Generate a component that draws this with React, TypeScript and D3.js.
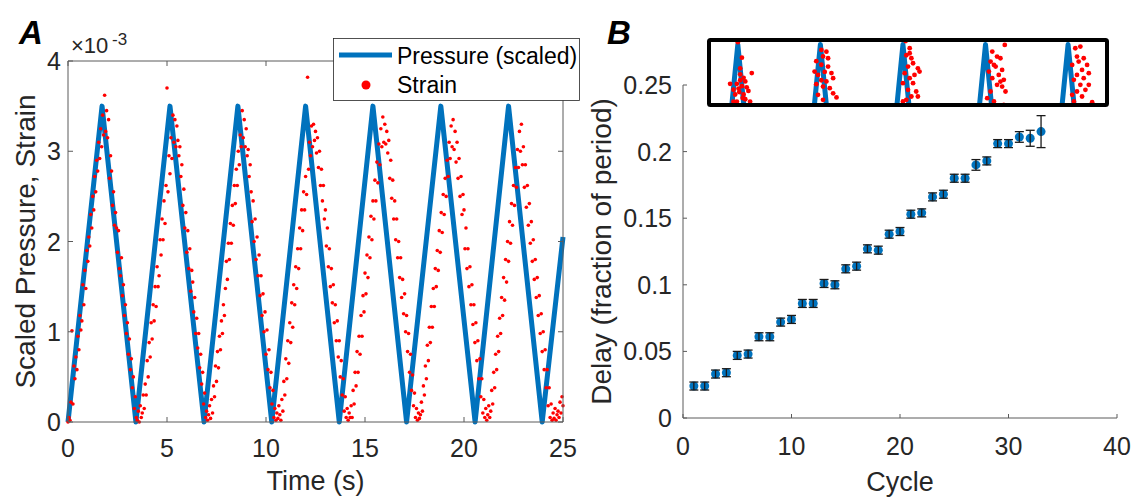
import React from 'react';
import * as d3 from 'd3';

const BLUE = '#0072BD';
const RED = '#FF0000';
const INK = '#262626';
const AXIS = '#5a5a5a';
const FONT = '"Liberation Sans", Arial, Helvetica, sans-serif';

// Panel A: pressure ramp corners (time in s, value x1e-3)
const PRESSURE_T = [0, 1.72, 3.43, 5.15, 6.87, 8.58, 10.29, 12.0, 13.7, 15.4, 17.1, 18.83, 20.56, 22.25, 23.95, 25];
const PRESSURE_V = [0, 3.5, 0, 3.5, 0, 3.5, 0, 3.5, 0, 3.5, 0, 3.5, 0, 3.5, 0, 2.05];

// strain, one sample every STRAIN_DT seconds from t = 0 (x1e-3), one row per second
const STRAIN_DT = 0.05;
const STRAIN = [
  0.00, 0.05, 0.02, 0.22, 1.01, 0.20, 0.62, 0.48, 0.72, 0.58, 0.95, 0.80, 1.18, 1.02, 1.12, 1.52, 1.30, 1.68, 1.48, 1.90,
  1.78, 2.05, 1.95, 2.30, 2.15, 2.50, 2.35, 2.72, 2.55, 2.90, 2.78, 3.10, 2.92, 3.25, 3.05, 3.40, 3.18, 3.62, 3.22, 3.45,
  3.15, 3.35, 2.70, 2.95, 2.78, 2.40, 2.55, 2.18, 2.32, 2.15, 1.88, 2.12, 1.70, 1.62, 1.82, 1.40, 1.52, 1.18, 1.30, 0.98,
  1.10, 0.75, 0.92, 0.58, 0.70, 0.38, 0.50, 0.15, 0.28, 0.05, 0.02, 0.12, 0.00, 0.18, 0.05, 0.10, 0.30, 0.15, 0.42, 0.30,
  0.68, 0.50, 0.88, 0.72, 1.10, 0.92, 1.30, 1.12, 1.50, 1.28, 1.72, 1.50, 1.62, 2.02, 1.85, 2.25, 2.02, 2.45, 2.20, 2.62,
  3.70, 2.55, 2.95, 2.75, 3.15, 2.92, 3.40, 3.10, 3.35, 3.05, 3.28, 3.12, 2.95, 3.05, 2.72, 2.85, 2.40, 2.58, 2.15, 2.32,
  1.88, 2.12, 1.70, 1.92, 1.45, 1.68, 1.55, 1.22, 1.38, 0.98, 1.15, 0.82, 0.98, 0.60, 0.75, 0.42, 0.55, 0.20, 0.32, 0.05,
  0.12, 0.02, 0.08, 0.18, 0.04, 0.25, 0.10, 0.40, 0.28, 0.62, 0.45, 0.78, 0.60, 0.95, 0.80, 1.12, 0.98, 1.30, 1.18, 1.48,
  1.78, 1.58, 1.98, 1.80, 2.20, 1.98, 2.40, 2.18, 2.62, 2.42, 2.80, 2.62, 3.00, 2.85, 3.18, 3.05, 3.45, 3.15, 3.35, 3.05,
  3.25, 2.95, 3.02, 2.72, 2.85, 2.55, 2.22, 2.45, 2.00, 2.25, 1.80, 2.05, 1.62, 1.85, 1.40, 1.62, 1.18, 1.42, 1.00, 1.22,
  0.75, 1.02, 0.58, 0.80, 0.38, 0.55, 0.20, 0.35, 0.05, 0.15, 0.02, 0.10, 0.04, 0.18, 0.08, 0.02, 0.25, 0.12, 0.45, 0.30,
  0.70, 0.48, 0.90, 0.65, 1.10, 0.88, 1.32, 1.05, 1.52, 1.30, 1.72, 1.48, 1.92, 1.70, 2.15, 1.92, 2.35, 2.12, 2.55, 2.35,
  2.72, 2.52, 3.82, 2.80, 3.10, 2.95, 3.28, 3.05, 3.30, 3.12, 3.22, 2.98, 3.15, 2.82, 3.00, 2.62, 2.80, 2.45, 2.62, 2.25,
  2.35, 1.95, 2.15, 1.72, 1.92, 1.50, 1.70, 1.32, 1.52, 1.10, 1.30, 0.90, 1.12, 0.72, 0.90, 0.50, 0.68, 0.30, 0.48, 0.12,
  0.28, 0.05, 0.15, 0.02, 0.10, 0.05, 0.18, 0.05, 0.35, 0.20, 0.55, 0.40, 0.78, 0.55, 0.95, 0.75, 1.18, 0.95, 1.40, 1.22,
  1.65, 1.42, 1.85, 1.60, 2.05, 1.82, 2.28, 2.02, 2.45, 2.25, 2.68, 2.45, 2.88, 2.65, 3.08, 2.85, 3.25, 3.05, 3.38, 3.10,
  3.30, 3.08, 3.22, 2.98, 3.12, 2.70, 2.90, 2.48, 2.68, 2.25, 2.45, 2.02, 2.25, 1.82, 2.00, 1.60, 1.82, 1.38, 1.58, 1.20,
  1.42, 1.00, 1.18, 0.78, 0.98, 0.55, 0.75, 0.35, 0.52, 0.18, 0.32, 0.05, 0.15, 0.02, 0.10, 0.04, 0.08, 0.22, 0.12, 0.40,
  0.30, 0.62, 0.48, 0.85, 0.68, 1.05, 0.88, 1.28, 1.05, 1.48, 1.28, 1.70, 1.50, 1.90, 1.68, 2.12, 1.88, 2.32, 2.10, 2.52,
  2.30, 2.70, 2.50, 2.90, 2.72, 3.10, 2.92, 3.28, 3.05, 3.35, 3.02, 3.22, 2.88, 3.10, 2.70, 2.92, 2.50, 2.72, 2.30, 2.52,
  2.35, 1.92, 2.15, 1.70, 1.92, 1.50, 1.72, 1.30, 1.52, 1.08, 1.30, 0.88, 1.10, 0.68, 0.90, 0.48, 0.70, 0.28, 0.48, 0.10,
  0.25, 0.05, 0.15, 0.02, 0.08, 0.18, 0.05, 0.12, 0.35, 0.20, 0.55, 0.38, 0.75, 0.58, 0.95, 0.78, 1.15, 0.98, 1.38, 1.18,
  1.60, 1.35, 1.80, 1.55, 2.00, 1.78, 2.22, 1.98, 2.42, 2.18, 2.62, 2.40, 2.82, 2.60, 3.02, 2.82, 3.22, 3.00, 3.30, 2.85,
  3.05, 2.60, 2.85, 2.38, 2.62, 2.18, 2.42, 1.98, 2.22, 1.78, 2.02, 1.58, 1.80, 1.38, 1.60, 1.18, 1.40, 0.98, 1.20, 0.78,
  1.00, 0.58, 0.80, 0.38, 0.58, 0.18, 0.38, 0.05, 0.20, 0.02, 0.10, 0.04, 0.15, 0.02, 0.08, 0.12, 0.05, 0.22, 0.10, 0.28,
  0.18,
];

const TIME_TICKS = [0, 5, 10, 15, 20, 25];
const STRAIN_TICKS = [0, 1, 2, 3, 4];

// Panel B: delay per cycle
const CYCLES = [1, 2, 3, 4, 5, 6, 7, 8, 9, 10, 11, 12, 13, 14, 15, 16, 17, 18, 19, 20, 21, 22, 23, 24, 25, 26, 27, 28, 29, 30, 31, 32, 33];
const DELAY = [0.024, 0.024, 0.033, 0.034, 0.047, 0.048, 0.061, 0.061, 0.072, 0.074, 0.086, 0.086, 0.101, 0.100, 0.112, 0.114, 0.127,
  0.126, 0.138, 0.140, 0.153, 0.154, 0.166, 0.168, 0.180, 0.180, 0.190, 0.193, 0.206, 0.206, 0.211, 0.210, 0.215];
const DELAY_ERR = [0.003, 0.003, 0.003, 0.003, 0.003, 0.003, 0.003, 0.003, 0.003, 0.003, 0.003, 0.003, 0.003, 0.003, 0.003, 0.003, 0.003,
  0.003, 0.003, 0.003, 0.003, 0.003, 0.003, 0.003, 0.003, 0.003, 0.004, 0.003, 0.003, 0.003, 0.004, 0.006, 0.012];
const CYCLE_TICKS = [0, 10, 20, 30, 40];
const DELAY_TICKS = [0, 0.05, 0.1, 0.15, 0.2, 0.25];
const DELAY_TICK_LABELS = ['0', '0.05', '0.1', '0.15', '0.2', '0.25'];

// inset: peak times of the five shown ramps, and strain near each peak (offset from peak in s, value x1e-3)
const INSET_PEAKS = [1.28, 4.71, 8.14, 11.57, 15.0];
const INSET_HALF = 1.715;
const INSET_DT = [
  [0, 0.17, 0.10, 0.58, -0.32, -0.04, 0.10, 0.24, 0.31, -0.18, 0.03, 0.17, 0.37, -0.11, 0.24, 0.44, -0.04, 0.31, 0.51, -0.18, 0.10, 0.06, 0.20],
  [0.04, 0.25, 0.11, -0.17, 0.04, 0.32, 0.18, 0.46, -0.10, 0.53, 0.04, 0.25, -0.17, 0.11, 0.39, 0.53, 0.67, -0.10, 0.11, -0.24, 0.32],
  [0.11, 0.28, 0.14, 0.35, 0.42, 0.21, 0.62, 0.07, 0.48, 0.28, 0.69, 0, 0.21, 0.55, 0.35, 0.14, 0.62, 0, 0.42, 0.28],
  [0.80, 0.28, 0.48, 0.21, 0.62, 0.42, 0.69, 0.14, 0.55, 0.28, 0.76, 0.69, 0.83, 0.48, 0.21, 0.07, 0.35, 0.76, 0.62, 0.35],
  [0.30, 0.51, 0.37, 0.65, 0.44, 0.79, 0.17, 0.58, 0.37, 0.86, 0.24, 0.65, 0.51, 0.86, 0.37, 0.17, 0.72, 1.0, 0.24, 0.58],
];
const INSET_V = [
  [3.52, 3.39, 3.30, 3.26, 3.17, 3.17, 3.20, 3.22, 3.19, 3.12, 3.13, 3.15, 3.14, 3.08, 3.08, 3.11, 3.02, 3.04, 3.02, 3.02, 3.25, 3.10, 3.05],
  [3.455, 3.44, 3.40, 3.36, 3.33, 3.315, 3.27, 3.26, 3.245, 3.217, 3.20, 3.19, 3.167, 3.147, 3.133, 3.09, 3.055, 3.077, 3.035, 3.273, 3.385],
  [3.53, 3.47, 3.41, 3.385, 3.343, 3.315, 3.30, 3.259, 3.245, 3.217, 3.273, 3.175, 3.119, 3.105, 3.063, 3.035, 3.063, 3.021, 3.175, 3.427],
  [3.497, 3.441, 3.399, 3.357, 3.385, 3.315, 3.287, 3.273, 3.245, 3.217, 3.203, 3.147, 3.105, 3.161, 3.105, 3.049, 3.021, 2.993, 3.189, 3.329],
  [3.469, 3.483, 3.399, 3.385, 3.357, 3.329, 3.329, 3.287, 3.245, 3.259, 3.203, 3.217, 3.161, 3.161, 3.105, 3.077, 3.119, 3.015, 3.021, 3.063],
];

const App = () => {
  const xA = d3.scaleLinear().domain([0, 25]).range([68, 563]);
  const yA = d3.scaleLinear().domain([0, 4]).range([422, 61]);
  const pressurePath = d3.line<number>()
    .x((_, i) => xA(PRESSURE_T[i]))
    .y(d => yA(d))(PRESSURE_V) || '';

  const xB = d3.scaleLinear().domain([0, 40]).range([683, 1117]);
  const yB = d3.scaleLinear().domain([0, 0.25]).range([418, 85]);

  const xIn = d3.scaleLinear().domain([0, 16.7]).range([707, 1109]);
  const yIn = d3.scaleLinear().domain([3.0, 3.53]).range([104, 41]);
  const insetLine = d3.line<[number, number]>().x(d => xIn(d[0])).y(d => yIn(d[1]));

  const [a0, a1] = xA.range();
  const [ya0, ya1] = yA.range();
  const [b0, b1] = xB.range();
  const [yb0, yb1] = yB.range();

  return (
    <svg width={1135} height={498} style={{ position: 'absolute', left: 0, top: 0, background: '#fff' }}
      fontFamily={FONT}>
      <defs>
        <clipPath id="insetClip">
          <rect x={711} y={42} width={394} height={62} />
        </clipPath>
      </defs>

      {/* ---------- panel A ---------- */}
      <text x={19} y={44} fontSize={33} fontWeight="bold" fontStyle="italic" fill="#000">A</text>
      <text x={71} y={53} fontSize={22} fill={INK}>×10</text>
      <text x={112} y={45} fontSize={17} fill={INK}>-3</text>

      <path d={pressurePath} fill="none" stroke={BLUE} strokeWidth={5} strokeLinejoin="round" />
      {STRAIN.map((v, i) => (
        <circle key={i} cx={xA(i * STRAIN_DT)} cy={yA(v)} r={1.8} fill={RED} />
      ))}

      <g stroke={AXIS} strokeWidth={1} fill="none">
        <line x1={a0} x2={a1} y1={ya0} y2={ya0} />
        <line x1={a0} x2={a1} y1={ya1} y2={ya1} />
        <line x1={a0} x2={a0} y1={ya0} y2={ya1} />
        <line x1={a1} x2={a1} y1={ya0} y2={ya1} />
        {TIME_TICKS.map(t => (
          <g key={t}>
            <line x1={xA(t)} x2={xA(t)} y1={ya0} y2={ya0 - 5} />
            <line x1={xA(t)} x2={xA(t)} y1={ya1} y2={ya1 + 5} />
          </g>
        ))}
        {STRAIN_TICKS.map(s => (
          <g key={s}>
            <line x1={a0} x2={a0 + 5} y1={yA(s)} y2={yA(s)} />
            <line x1={a1} x2={a1 - 5} y1={yA(s)} y2={yA(s)} />
          </g>
        ))}
      </g>
      {TIME_TICKS.map(t => (
        <text key={t} x={xA(t)} y={457} fontSize={25} textAnchor="middle" fill={INK}>{t}</text>
      ))}
      {STRAIN_TICKS.map(s => (
        <text key={s} x={61} y={yA(s)} dy="0.36em" fontSize={25} textAnchor="end" fill={INK}>{s}</text>
      ))}
      <text x={xA(12.5)} y={490} fontSize={27} textAnchor="middle" fill={INK}>Time (s)</text>
      <text transform={`translate(35,${(ya0 + ya1) / 2}) rotate(-90)`} fontSize={28} textAnchor="middle" fill={INK}>
        Scaled Pressure, Strain
      </text>

      {/* legend */}
      <rect x={333.5} y={38.5} width={246} height={62} fill="#fff" stroke={INK} strokeWidth={0.8} />
      <line x1={339} x2={392} y1={55} y2={55} stroke={BLUE} strokeWidth={5} />
      <text x={397} y={64} fontSize={23} fill="#000">Pressure (scaled)</text>
      <circle cx={366} cy={85} r={4.5} fill={RED} />
      <text x={397} y={93} fontSize={23} fill="#000">Strain</text>

      {/* ---------- panel B ---------- */}
      <text x={607} y={44} fontSize={33} fontWeight="bold" fontStyle="italic" fill="#000">B</text>

      <g stroke={AXIS} strokeWidth={1} fill="none">
        <line x1={b0} x2={b1} y1={yb0} y2={yb0} />
        <line x1={b0} x2={b0} y1={yb0} y2={yb1} />
        {CYCLE_TICKS.map(c => (
          <line key={c} x1={xB(c)} x2={xB(c)} y1={yb0} y2={yb0 - 4} />
        ))}
        {DELAY_TICKS.map(d => (
          <line key={d} x1={b0} x2={b0 + 4} y1={yB(d)} y2={yB(d)} />
        ))}
      </g>
      {CYCLE_TICKS.map(c => (
        <text key={c} x={xB(c)} y={455} fontSize={25} textAnchor="middle" fill={INK}>{c}</text>
      ))}
      {DELAY_TICKS.map((d, i) => (
        <text key={d} x={672} y={yB(d)} dy="0.36em" fontSize={25} textAnchor="end" fill={INK}>{DELAY_TICK_LABELS[i]}</text>
      ))}
      <text x={xB(20)} y={491} fontSize={27} textAnchor="middle" fill={INK}>Cycle</text>
      <text transform={`translate(611,${(yb0 + yb1) / 2}) rotate(-90)`} fontSize={28} textAnchor="middle" fill={INK}>
        Delay (fraction of period)
      </text>

      {CYCLES.map((c, i) => (
        <circle key={c} cx={xB(c)} cy={yB(DELAY[i])} r={4.5} fill={BLUE} />
      ))}
      <g stroke="#1a1a1a" strokeWidth={1.3}>
        {CYCLES.map((c, i) => {
          const lo = yB(DELAY[i] - DELAY_ERR[i]);
          const hi = yB(DELAY[i] + DELAY_ERR[i]);
          const x = xB(c);
          return (
            <g key={c}>
              <line x1={x} x2={x} y1={lo} y2={hi} />
              <line x1={x - 4.5} x2={x + 4.5} y1={lo} y2={lo} />
              <line x1={x - 4.5} x2={x + 4.5} y1={hi} y2={hi} />
            </g>
          );
        })}
      </g>

      {/* inset */}
      <rect x={709} y={40} width={398} height={65} fill="#fff" />
      <g clipPath="url(#insetClip)">
        {INSET_PEAKS.map(p => (
          <path key={p}
            d={insetLine([[p - INSET_HALF, 0], [p, 3.5], [p + INSET_HALF, 0]]) || ''}
            fill="none" stroke={BLUE} strokeWidth={5} strokeLinejoin="round" />
        ))}
        {INSET_PEAKS.map((p, k) => INSET_DT[k].map((dt, j) => (
          <circle key={`${k}-${j}`} cx={xIn(p + dt)} cy={yIn(INSET_V[k][j])} r={2.4} fill={RED} />
        )))}
      </g>
      <rect x={709} y={40} width={398} height={65} fill="none" stroke="#000" strokeWidth={4} rx={1.5} />
    </svg>
  );
};

export default App;
